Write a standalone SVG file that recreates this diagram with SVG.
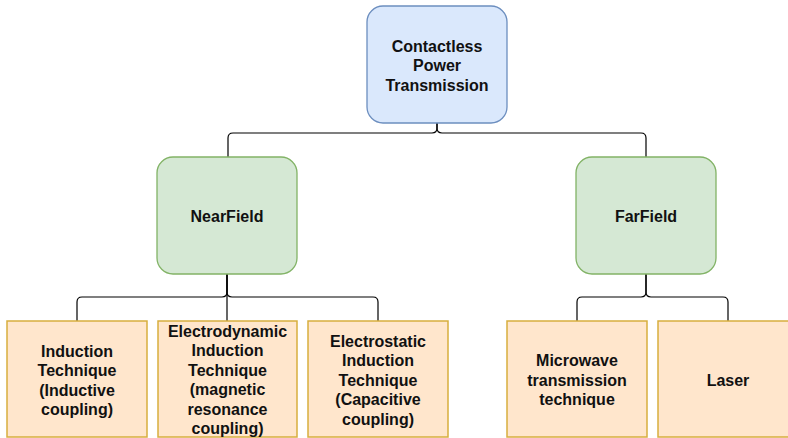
<svg xmlns="http://www.w3.org/2000/svg" width="788" height="438" viewBox="0 0 788 438">
  <style>
    .lbl { font-family: "Liberation Sans", Arial, Helvetica, sans-serif; font-weight: bold; font-size: 16px; fill: #111; text-anchor: middle; dominant-baseline: central; }
    .root { fill: #dae8fc; stroke: #6c8ebf; stroke-width: 1.3; }
    .field { fill: #d5e8d4; stroke: #82b366; stroke-width: 1.3; }
    .leaf { fill: #ffe6cc; stroke: #d7ae3e; stroke-width: 1.5; }
    .edge { fill: none; stroke: #000; stroke-width: 1.2; }
  </style>
  <rect width="788" height="438" fill="#ffffff"/>

  <g id="connectors">
    <!-- root to fields -->
    <path class="edge" d="M437,123 L437,128 Q437,133 432,133 L233,133 Q228,133 228,138 L228,157"/>
    <path class="edge" d="M437,123 L437,128 Q437,133 442,133 L641,133 Q646,133 646,138 L646,157"/>
    <!-- NearField to leaves -->
    <path class="edge" d="M227,274 L227,292 Q227,297 222,297 L82,297 Q77,297 77,302 L77,321"/>
    <path class="edge" d="M227,274 L227,321"/>
    <path class="edge" d="M227,274 L227,292 Q227,297 232,297 L373,297 Q378,297 378,302 L378,321"/>
    <!-- FarField to leaves -->
    <path class="edge" d="M646,274 L646,292 Q646,297 641,297 L582,297 Q577,297 577,302 L577,321"/>
    <path class="edge" d="M646,274 L646,292 Q646,297 651,297 L723,297 Q728,297 728,302 L728,321"/>
  </g>

  <g id="root">
    <rect class="root" x="367" y="6" width="140" height="117" rx="16" ry="16"/>
    <text class="lbl" x="437" y="46">Contactless</text>
    <text class="lbl" x="437" y="65.5">Power</text>
    <text class="lbl" x="437" y="85">Transmission</text>
  </g>

  <g id="nearfield">
    <rect class="field" x="157" y="157" width="140" height="117" rx="16" ry="16"/>
    <text class="lbl" x="227" y="216.5">NearField</text>
  </g>

  <g id="farfield">
    <rect class="field" x="576" y="157" width="140" height="117" rx="16" ry="16"/>
    <text class="lbl" x="646" y="216.5">FarField</text>
  </g>

  <g id="induction">
    <rect class="leaf" x="7" y="321" width="140" height="116"/>
    <text class="lbl" x="77" y="351">Induction</text>
    <text class="lbl" x="77" y="370.5">Technique</text>
    <text class="lbl" x="77" y="390">(Inductive</text>
    <text class="lbl" x="77" y="409.5">coupling)</text>
  </g>

  <g id="electrodynamic">
    <rect class="leaf" x="158" y="321" width="139" height="116"/>
    <text class="lbl" x="227.5" y="331">Electrodynamic</text>
    <text class="lbl" x="227.5" y="350.5">Induction</text>
    <text class="lbl" x="227.5" y="370">Technique</text>
    <text class="lbl" x="227.5" y="389.5">(magnetic</text>
    <text class="lbl" x="227.5" y="409">resonance</text>
    <text class="lbl" x="227.5" y="428.5">coupling)</text>
  </g>

  <g id="electrostatic">
    <rect class="leaf" x="308" y="321" width="140" height="116"/>
    <text class="lbl" x="378" y="341">Electrostatic</text>
    <text class="lbl" x="378" y="360.5">Induction</text>
    <text class="lbl" x="378" y="380">Technique</text>
    <text class="lbl" x="378" y="399.5">(Capacitive</text>
    <text class="lbl" x="378" y="419">coupling)</text>
  </g>

  <g id="microwave">
    <rect class="leaf" x="507" y="321" width="140" height="116"/>
    <text class="lbl" x="577" y="360.5">Microwave</text>
    <text class="lbl" x="577" y="380">transmission</text>
    <text class="lbl" x="577" y="399.5">technique</text>
  </g>

  <g id="laser">
    <rect class="leaf" x="658" y="321" width="140" height="116"/>
    <text class="lbl" x="728" y="380">Laser</text>
  </g>
</svg>
